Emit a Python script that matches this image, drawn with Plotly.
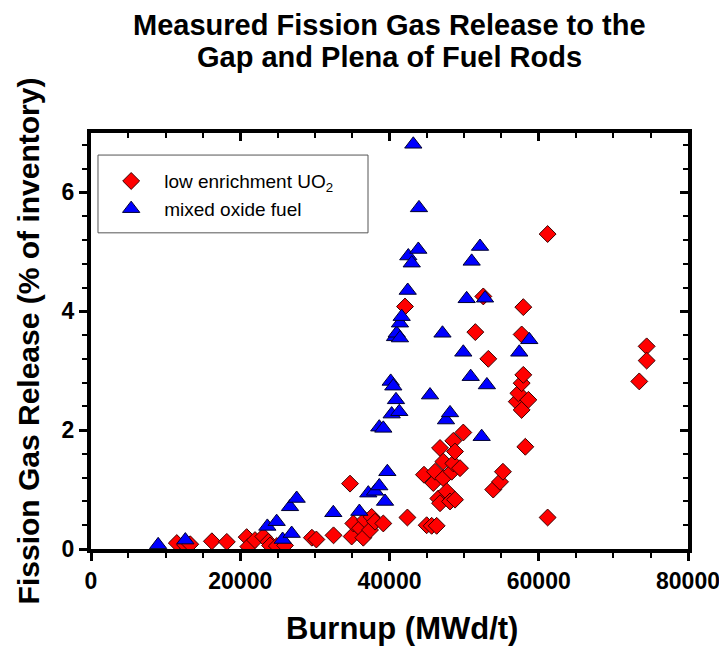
import plotly.graph_objects as go

# Low enrichment UO2 rods: burnup (MWd/t) and fission gas release (% of inventory)
uo2_burnup = [11500, 12600, 13300, 16200, 18200, 20860, 21080, 21980, 23090, 23760,
              23990, 24900, 26000, 29600, 30200, 32500, 34710, 34930, 35150, 36050,
              36490, 36720, 37390, 37610, 38060, 39170, 42080, 42400, 44620, 44980,
              45650, 45870, 46100, 46320, 46540, 46770, 46770, 47210, 47210, 47660,
              48110, 48330, 48550, 48550, 48780, 48780, 49450, 49890, 51500, 52570,
              53240, 53900, 54810, 55200, 57050, 57270, 57710, 57710, 57710, 57930,
              57930, 58200, 58610, 61190, 61190, 73470, 74460, 74460]
uo2_fgr = [0.10, 0.07, 0.08, 0.13, 0.12, 0.20, 0.04, 0.15, 0.21, 0.12,
           0.06, 0.05, 0.06, 0.19, 0.16, 0.23, 1.10, 0.21, 0.43, 0.35,
           0.19, 0.49, 0.32, 0.54, 0.46, 0.43, 4.08, 0.53, 1.25, 0.40,
           0.39, 1.11, 1.30, 0.39, 0.85, 1.70, 0.77, 1.47, 1.19, 0.97,
           0.80, 1.30, 1.82, 1.44, 1.64, 0.83, 1.36, 1.96, 3.65, 4.25,
           3.20, 1.00, 1.13, 1.30, 2.48, 2.62, 3.61, 2.79, 2.34, 4.07,
           2.93, 1.72, 2.51, 5.30, 0.53, 2.82, 3.41, 3.17]

# Mixed oxide fuel rods
mox_burnup = [9000, 12640, 23630, 24880, 25680, 26670, 26890, 27560, 32470, 35960,
              37160, 38060, 38630, 38630, 39170, 39400, 39710, 40160, 40290, 40510,
              40740, 40870, 40960, 41310, 41400, 41400, 41630, 42440, 42520, 42980,
              43190, 43860, 43950, 45430, 47100, 47570, 48110, 49890, 50340, 50880,
              51010, 52130, 52350, 52800, 53050, 57390, 58730]
mox_fgr = [0.07, 0.15, 0.38, 0.46, 0.16, 0.71, 0.26, 0.85, 0.61, 0.63,
           0.94, 0.97, 1.06, 2.05, 2.03, 0.80, 1.30, 2.82, 2.27, 2.74,
           3.57, 2.51, 3.63, 2.31, 3.80, 3.55, 3.91, 4.35, 4.93, 4.81,
           6.81, 5.04, 5.74, 2.59, 3.63, 2.17, 2.29, 3.31, 4.21, 2.90,
           4.84, 5.09, 1.89, 4.22, 2.76, 3.31, 3.52]

x_range = [0, 80000]
y_range = [0, 7]
x_ticks = [0, 20000, 40000, 60000, 80000]
y_ticks = [0, 2, 4, 6]

title_lines = ["Measured Fission Gas Release to the", "Gap and Plena of Fuel Rods"]

FONT = "Liberation Sans, Arial, sans-serif"

fig = go.Figure()
fig.add_trace(go.Scatter(
    x=uo2_burnup, y=uo2_fgr, mode="markers",
    name="low enrichment UO<sub>2</sub>",
    marker=dict(symbol="diamond", size=13, color="#ff0000",
                line=dict(color="#3a0000", width=1)),
))
fig.add_trace(go.Scatter(
    x=mox_burnup, y=mox_fgr, mode="markers",
    name="mixed oxide fuel",
    marker=dict(symbol="triangle-up", size=15, color="#0000ff",
                line=dict(color="#000030", width=1)),
))
# empty trace so the mirrored top/right axes get drawn
fig.add_trace(go.Scatter(x=[], y=[], xaxis="x2", yaxis="y2",
                         showlegend=False, hoverinfo="skip"))

axis_common = dict(showline=True, linewidth=4, linecolor="black",
                   showgrid=False, zeroline=False, automargin=False,
                   tickcolor="black", tickwidth=3, ticklen=8)

# two-line heading, set as separate lines for tighter line spacing
heading = [dict(text=f"<b>{line}</b>", xref="paper", yref="paper",
                x=0.5, y=yy, xanchor="center", yanchor="middle",
                showarrow=False, font=dict(size=29, family=FONT))
           for line, yy in zip(title_lines, [1.2596, 1.1827])]

fig.update_layout(
    width=719, height=646,
    margin=dict(l=91, r=31, t=133, b=97, autoexpand=False),
    paper_bgcolor="white", plot_bgcolor="white",
    font=dict(family=FONT, color="black"),
    xaxis=dict(range=x_range, tickvals=x_ticks, ticks="outside",
               tickfont=dict(size=23, family=FONT), ticklabeloverflow="allow",
               ticktext=[f"<b>{v}</b>" for v in x_ticks],
               minor=dict(dtick=5000, ticklen=5, tickwidth=2, tickcolor="black",
                          ticks="outside", showgrid=False),
               **axis_common),
    yaxis=dict(range=y_range, tickvals=y_ticks, ticks="outside",
               ticktext=[f"<b>{v}</b>" for v in y_ticks],
               tickfont=dict(size=23, family=FONT), ticklabeloverflow="allow",
               title=dict(text="<b>Fission Gas Release (% of inventory)</b>",
                          font=dict(size=30), standoff=14),
               minor=dict(dtick=0.4, ticklen=5, tickwidth=2, tickcolor="black",
                          ticks="outside", showgrid=False),
               **axis_common),
    xaxis2=dict(range=x_range, overlaying="x", side="top", anchor="y",
                tickvals=x_ticks, ticks="inside", showticklabels=False,
                minor=dict(dtick=5000, ticklen=5, tickwidth=2, tickcolor="black",
                           ticks="inside", showgrid=False),
                **axis_common),
    yaxis2=dict(range=y_range, overlaying="y", side="right", anchor="x",
                tickvals=y_ticks, ticks="inside", showticklabels=False,
                minor=dict(dtick=0.4, ticklen=5, tickwidth=2, tickcolor="black",
                           ticks="inside", showgrid=False),
                **axis_common),
    legend=dict(x=0.012, y=0.93, xanchor="left", yanchor="top",
                borderwidth=0, bgcolor="rgba(0,0,0,0)",
                font=dict(size=19, family=FONT, color="black"),
                tracegroupgap=0, itemwidth=56),
    showlegend=True,
    # frame around the legend
    shapes=[dict(type="rect", xref="paper", yref="paper",
                 x0=0.0117, x1=0.464, y0=0.760, y1=0.947,
                 line=dict(color="#555555", width=1), fillcolor="white",
                 layer="below")],
    annotations=heading + [dict(text="<b>Burnup (MWd/t)</b>", xref="paper", yref="paper",
                                x=0.521, y=-0.19, xanchor="center", yanchor="middle",
                                showarrow=False, font=dict(size=31, family=FONT))],
)

fig.write_html("out.html")
